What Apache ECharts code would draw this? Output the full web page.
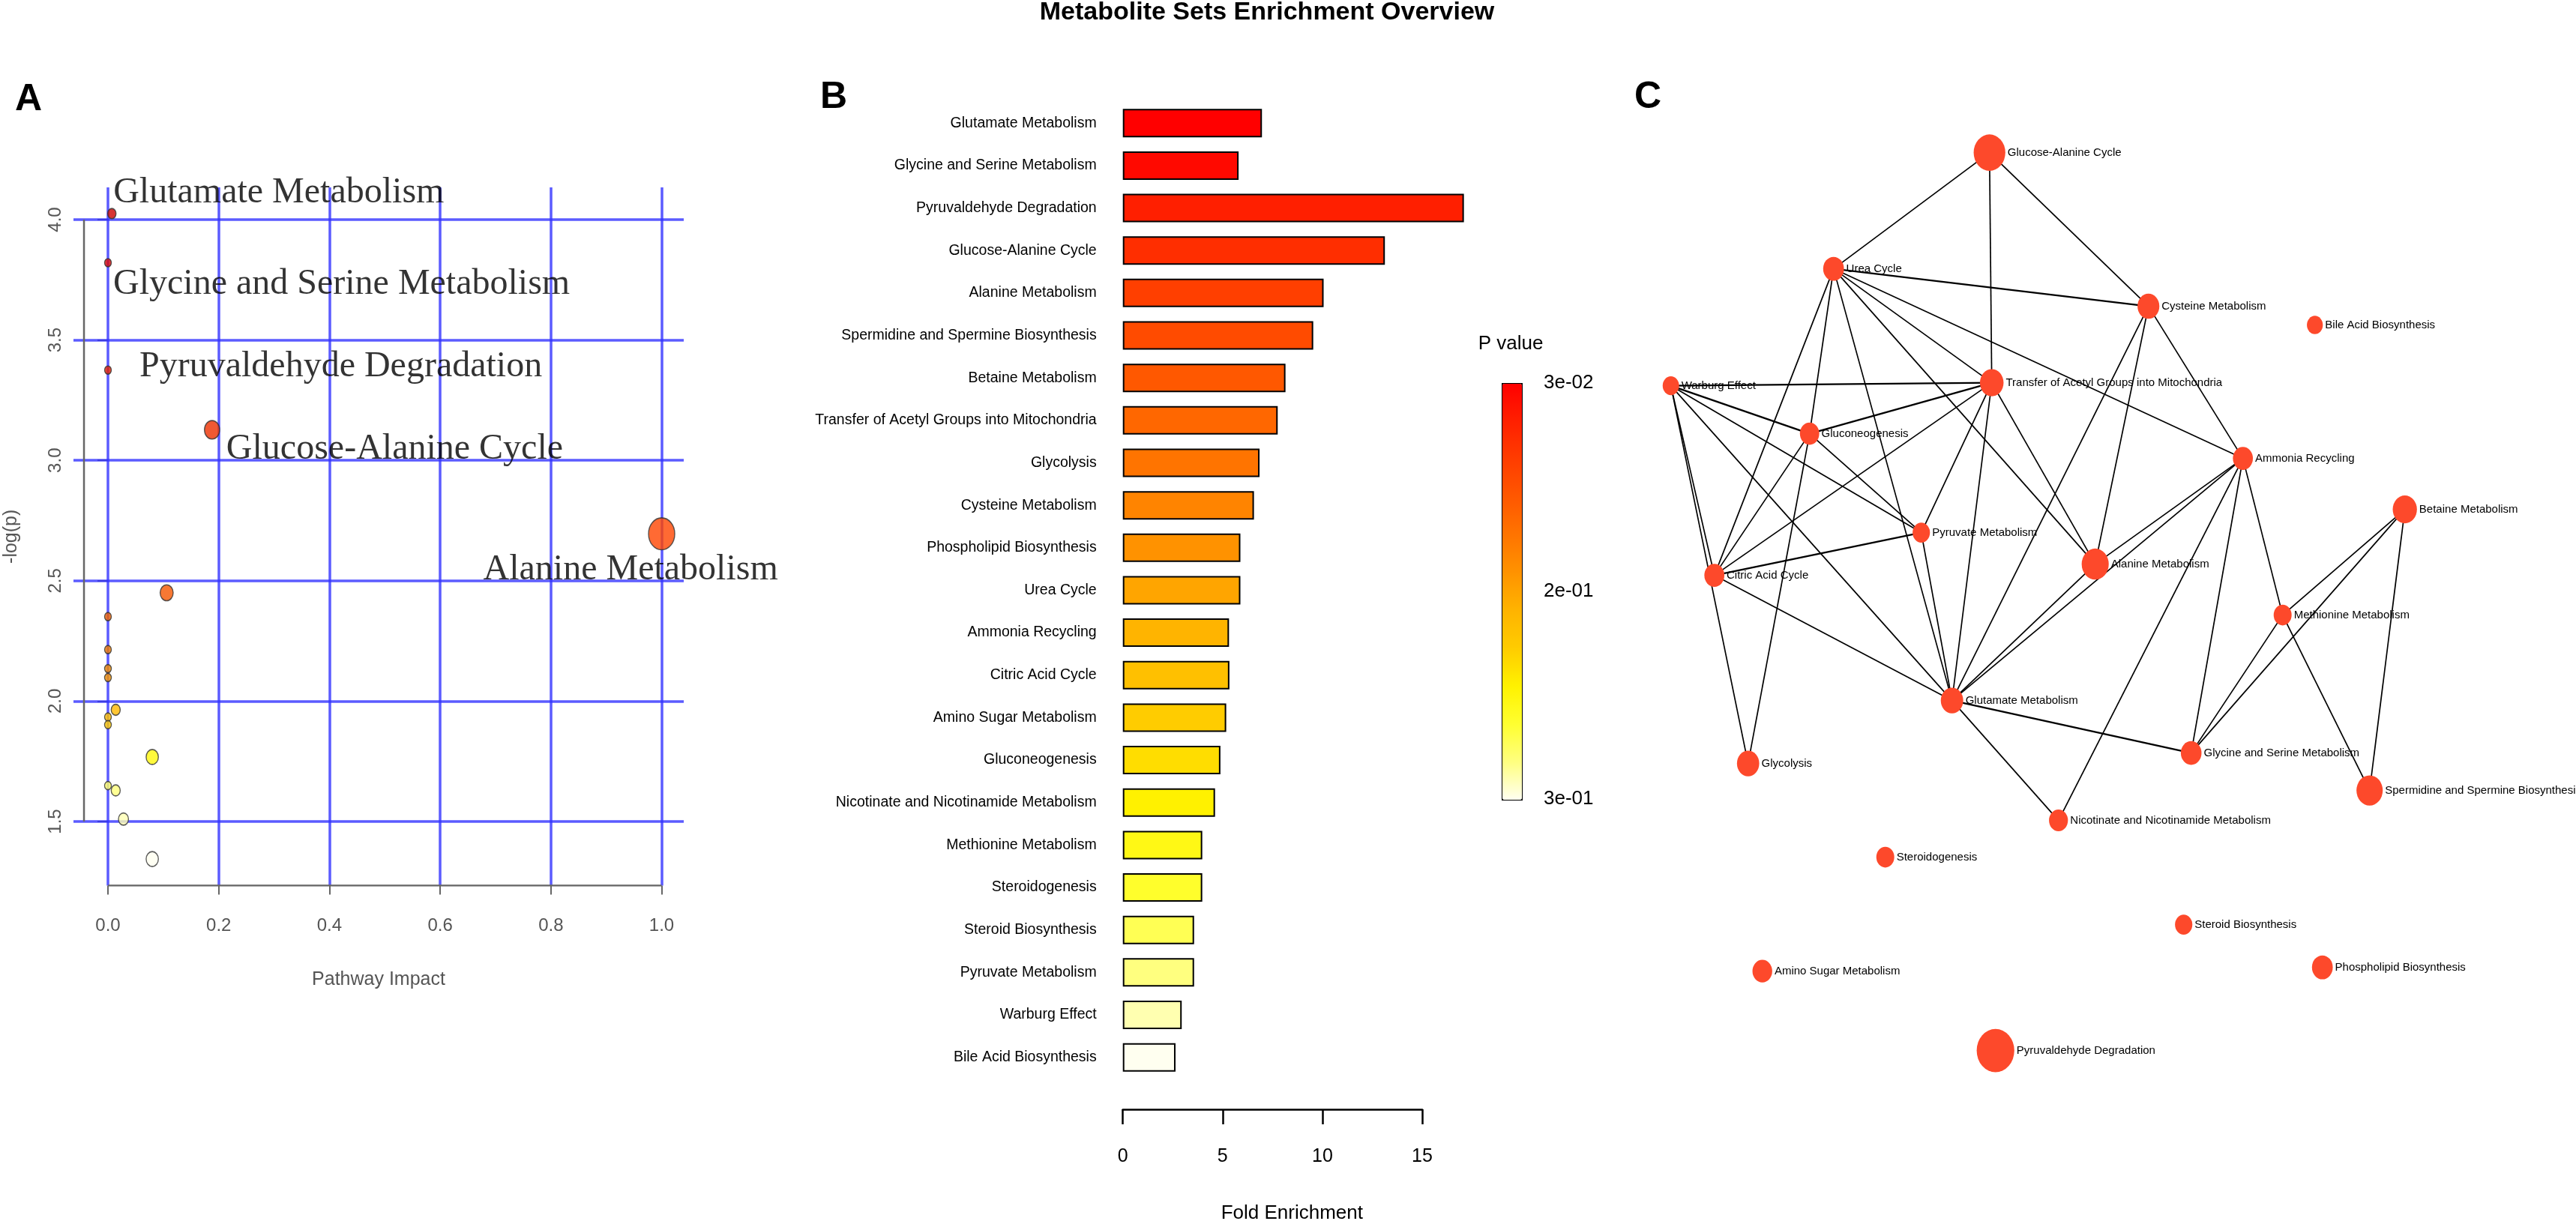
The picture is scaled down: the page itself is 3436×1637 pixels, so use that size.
<!DOCTYPE html>
<html><head><meta charset="utf-8">
<script src="https://cdn.jsdelivr.net/npm/echarts@6/dist/echarts.min.js"></script>
<style>html,body{margin:0;padding:0;background:#fff}#c{width:3436px;height:1637px}</style>
</head><body><div id="c"></div>
<script>
// ---------- Panel A: pathway impact vs -log(p) ----------
const aImpact = [0.007, 0, 0, 0.188, 1.0, 0.106, 0, 0, 0, 0, 0.014, 0, 0, 0.080, 0, 0.014, 0.028, 0.080];
const aLogP   = [4.025, 3.821, 3.375, 3.127, 2.695, 2.450, 2.351, 2.214, 2.135, 2.098, 1.964, 1.934, 1.902, 1.768, 1.649, 1.629, 1.510, 1.344];
const aNames  = ['Glutamate Metabolism', 'Glycine and Serine Metabolism', 'Pyruvaldehyde Degradation', 'Glucose-Alanine Cycle', 'Alanine Metabolism', '', '', '', '', '', '', '', '', '', '', '', '', ''];
const aXTicks = [0, 0.2, 0.4, 0.6, 0.8, 1.0];
const aYTicks = [1.5, 2.0, 2.5, 3.0, 3.5, 4.0];

// ---------- Panel B: fold enrichment ----------
const bCategories = ['Glutamate Metabolism', 'Glycine and Serine Metabolism', 'Pyruvaldehyde Degradation', 'Glucose-Alanine Cycle', 'Alanine Metabolism', 'Spermidine and Spermine Biosynthesis', 'Betaine Metabolism', 'Transfer of Acetyl Groups into Mitochondria', 'Glycolysis', 'Cysteine Metabolism', 'Phospholipid Biosynthesis', 'Urea Cycle', 'Ammonia Recycling', 'Citric Acid Cycle', 'Amino Sugar Metabolism', 'Gluconeogenesis', 'Nicotinate and Nicotinamide Metabolism', 'Methionine Metabolism', 'Steroidogenesis', 'Steroid Biosynthesis', 'Pyruvate Metabolism', 'Warburg Effect', 'Bile Acid Biosynthesis'];
const bFold = [6.97, 5.80, 17.09, 13.13, 10.06, 9.54, 8.15, 7.76, 6.85, 6.57, 5.89, 5.89, 5.32, 5.34, 5.18, 4.89, 4.62, 3.98, 3.98, 3.57, 3.57, 2.95, 2.64];
const bP    = [0.030, 0.037, 0.054, 0.066, 0.081, 0.092, 0.104, 0.117, 0.128, 0.141, 0.152, 0.166, 0.177, 0.190, 0.202, 0.213, 0.226, 0.237, 0.249, 0.262, 0.275, 0.286, 0.300];

// ---------- Panel C: network (layout units) ----------
const cNodes = ['Glucose-Alanine Cycle', 'Urea Cycle', 'Cysteine Metabolism', 'Bile Acid Biosynthesis', 'Warburg Effect', 'Transfer of Acetyl Groups into Mitochondria', 'Gluconeogenesis', 'Ammonia Recycling', 'Betaine Metabolism', 'Pyruvate Metabolism', 'Alanine Metabolism', 'Citric Acid Cycle', 'Methionine Metabolism', 'Glutamate Metabolism', 'Glycine and Serine Metabolism', 'Glycolysis', 'Spermidine and Spermine Biosynthesis', 'Nicotinate and Nicotinamide Metabolism', 'Steroidogenesis', 'Steroid Biosynthesis', 'Phospholipid Biosynthesis', 'Amino Sugar Metabolism', 'Pyruvaldehyde Degradation'];
const cNodeX = [425, 217, 637, 859, 0, 428, 185, 763, 979, 334, 566, 58, 816, 375, 694, 103, 932, 517, 286, 684, 869, 122, 433];
const cNodeY = [0, 155, 205, 230, 311, 307, 375, 408, 476, 507, 549, 564, 617, 731, 801, 815, 851, 891, 940, 1030, 1087, 1092, 1198];
const cEdges = [
  ['Glucose-Alanine Cycle', 'Urea Cycle', 1],
  ['Glucose-Alanine Cycle', 'Transfer of Acetyl Groups into Mitochondria', 1],
  ['Glucose-Alanine Cycle', 'Cysteine Metabolism', 1],
  ['Urea Cycle', 'Cysteine Metabolism', 2],
  ['Urea Cycle', 'Transfer of Acetyl Groups into Mitochondria', 1],
  ['Urea Cycle', 'Ammonia Recycling', 1],
  ['Urea Cycle', 'Alanine Metabolism', 1],
  ['Urea Cycle', 'Glutamate Metabolism', 1],
  ['Urea Cycle', 'Gluconeogenesis', 1],
  ['Urea Cycle', 'Citric Acid Cycle', 1],
  ['Warburg Effect', 'Transfer of Acetyl Groups into Mitochondria', 2],
  ['Warburg Effect', 'Gluconeogenesis', 2],
  ['Warburg Effect', 'Pyruvate Metabolism', 1],
  ['Warburg Effect', 'Glutamate Metabolism', 1],
  ['Warburg Effect', 'Citric Acid Cycle', 1],
  ['Warburg Effect', 'Glycolysis', 1],
  ['Gluconeogenesis', 'Transfer of Acetyl Groups into Mitochondria', 2],
  ['Gluconeogenesis', 'Citric Acid Cycle', 1],
  ['Gluconeogenesis', 'Pyruvate Metabolism', 1],
  ['Gluconeogenesis', 'Glycolysis', 1],
  ['Transfer of Acetyl Groups into Mitochondria', 'Citric Acid Cycle', 1],
  ['Transfer of Acetyl Groups into Mitochondria', 'Pyruvate Metabolism', 1],
  ['Transfer of Acetyl Groups into Mitochondria', 'Glutamate Metabolism', 1],
  ['Transfer of Acetyl Groups into Mitochondria', 'Alanine Metabolism', 1],
  ['Citric Acid Cycle', 'Pyruvate Metabolism', 2],
  ['Citric Acid Cycle', 'Glutamate Metabolism', 1],
  ['Pyruvate Metabolism', 'Glutamate Metabolism', 1],
  ['Cysteine Metabolism', 'Ammonia Recycling', 1],
  ['Cysteine Metabolism', 'Alanine Metabolism', 1],
  ['Cysteine Metabolism', 'Glutamate Metabolism', 1],
  ['Ammonia Recycling', 'Alanine Metabolism', 1],
  ['Ammonia Recycling', 'Glutamate Metabolism', 1],
  ['Ammonia Recycling', 'Nicotinate and Nicotinamide Metabolism', 1],
  ['Ammonia Recycling', 'Glycine and Serine Metabolism', 1],
  ['Ammonia Recycling', 'Methionine Metabolism', 1],
  ['Alanine Metabolism', 'Glutamate Metabolism', 1],
  ['Glutamate Metabolism', 'Glycine and Serine Metabolism', 2],
  ['Glutamate Metabolism', 'Nicotinate and Nicotinamide Metabolism', 1],
  ['Methionine Metabolism', 'Betaine Metabolism', 1],
  ['Methionine Metabolism', 'Glycine and Serine Metabolism', 1],
  ['Methionine Metabolism', 'Spermidine and Spermine Biosynthesis', 1],
  ['Betaine Metabolism', 'Glycine and Serine Metabolism', 1],
  ['Betaine Metabolism', 'Spermidine and Spermine Biosynthesis', 1]
];

// ---------- styles ----------
const SANS = "'Liberation Sans',Arial,Helvetica,sans-serif";
const SERIF = "'Liberation Serif','Times New Roman',serif";
const ELLIPSE = 'path://M50 0A50 50 0 1 1 50 100A50 50 0 1 1 50 0Z';
const aPalette = ['#fffff0','#ffffc0','#ffff88','#ffff10','#ffd000','#ffaa00','#f08800','#ea6a00','#f25800','#ff5000','#ff4500','#fa4000','#f43800','#ee3300','#e82a00','#e22000','#e01808','#de1008','#dd0a0a','#d50505','#cc0000'];
const bPalette = ['#ff0000','#ff2000','#ff3d00','#ff5800','#ff7400','#ff9300','#ffb400','#ffcc00','#fff200','#ffff30','#ffff80','#fffff0'];
const aLabelOffset = [[2,-28],[7,29],[42,-4],[19,26],[-238,48]];
const nodeColor = '#fd492b';
const axisGrey = '#666';

const pMin = Math.min(...bP), pMax = Math.max(...bP);
function sci(v){
  const e = Math.floor(Math.log10(v) + 1e-9);
  let m = Math.round(v / Math.pow(10, e));
  let ee = e; if (m >= 10) { m = 1; ee += 1; }
  const s = ee < 0 ? '-' : '+';
  return m + 'e' + s + String(Math.abs(ee)).padStart(2, '0');
}
const foldOf = {}; bCategories.forEach((c, i) => foldOf[c] = bFold[i]);

const aData = aImpact.map((x, i) => {
  const w = 9 + 26 * Math.sqrt(x);
  const item = { value: [x, aLogP[i]], name: aNames[i], symbolSize: [w, w * 1.22] };
  if (aNames[i]) item.label = { offset: aLabelOffset[i] };
  return item;
});

const yMinA = 1.2335, axisXA = -0.0433;
const chart = echarts.init(document.getElementById('c'), null, { renderer: 'canvas' });
chart.setOption({
  animation: false,
  backgroundColor: '#fff',
  title: [
    { text: 'Metabolite Sets Enrichment Overview', left: 1690, top: 0, textAlign: 'center', padding: 0, textStyle: { fontFamily: SANS, fontWeight: 'bold', fontSize: 34, color: '#000' } },
    { text: 'A', left: 20, top: 108, padding: 0, textStyle: { fontFamily: SANS, fontWeight: 'bold', fontSize: 50, color: '#000' } },
    { text: 'B', left: 1094, top: 105, padding: 0, textStyle: { fontFamily: SANS, fontWeight: 'bold', fontSize: 50, color: '#000' } },
    { text: 'C', left: 2180, top: 105, padding: 0, textStyle: { fontFamily: SANS, fontWeight: 'bold', fontSize: 50, color: '#000' } },
    { text: 'P value', left: 2015, top: 446, textAlign: 'center', padding: 0, textStyle: { fontFamily: SANS, fontWeight: 'normal', fontSize: 26, color: '#000' } }
  ],
  grid: [
    { left: 98, top: 250, width: 814, height: 931.6 },
    { left: 1497.7, top: 135.9, width: 399.3, height: 1305 },
    { left: 2003, top: 511, width: 26, height: 555 }
  ],
  xAxis: [
    { gridIndex: 0, type: 'value', min: -0.0623, max: 1.0399,
      axisLine: { show: false }, splitLine: { show: false },
      axisTick: { customValues: aXTicks, length: 12, lineStyle: { color: axisGrey, width: 2 } },
      axisLabel: { customValues: aXTicks, formatter: v => v.toFixed(1), margin: 42, fontSize: 24, fontFamily: SANS, color: '#555' },
      name: 'Pathway Impact', nameLocation: 'middle', nameGap: 113, nameTextStyle: { fontSize: 25, fontFamily: SANS, color: '#555' } },
    { gridIndex: 1, type: 'value', min: 0, max: 15, interval: 5, offset: 41,
      axisLine: { show: true, lineStyle: { color: '#000', width: 2.5 } },
      axisTick: { show: true, length: 20, lineStyle: { color: '#000', width: 2.5 } },
      axisLabel: { margin: 51, fontSize: 25, fontFamily: SANS, color: '#000' },
      splitLine: { show: false },
      name: 'Fold Enrichment', nameLocation: 'middle', nameGap: 126, nameTextStyle: { fontSize: 26, fontFamily: SANS, color: '#000', padding: [0, 0, 0, 52] } },
    { gridIndex: 2, type: 'value', show: false, min: 0, max: 1 }
  ],
  yAxis: [
    { gridIndex: 0, type: 'value', min: yMinA, max: 4.1339, offset: -14,
      axisLine: { show: false }, splitLine: { show: false },
      axisTick: { customValues: aYTicks, length: 14, lineStyle: { color: axisGrey, width: 2 } },
      axisLabel: { customValues: aYTicks, formatter: v => v.toFixed(1), rotate: 90, margin: 26, fontSize: 24, fontFamily: SANS, color: '#555' },
      name: '-log(p)', nameLocation: 'middle', nameGap: 84, nameTextStyle: { fontSize: 25, fontFamily: SANS, color: '#555' } },
    { gridIndex: 1, type: 'category', data: bCategories, inverse: true,
      axisLine: { show: false }, axisTick: { show: false },
      axisLabel: { margin: 35, fontSize: 19.5, fontFamily: SANS, color: '#000' } },
    { gridIndex: 2, type: 'value', min: pMin, max: pMax, inverse: true, position: 'right',
      axisLine: { show: false }, axisTick: { show: false }, splitLine: { show: false },
      axisLabel: { customValues: [pMin, (pMin + pMax) / 2, pMax], formatter: sci, margin: 30, fontSize: 26, fontFamily: SANS, color: '#000', padding: [14, 0, 0, 0] } }
  ],
  visualMap: [
    { type: 'continuous', seriesIndex: 0, dimension: 1, min: Math.min(...aLogP), max: Math.max(...aLogP), show: false, inRange: { color: aPalette } },
    { type: 'continuous', seriesIndex: 1, dimension: 2, min: pMin, max: pMax, inverse: true, calculable: false, show: true,
      left: 2003, top: 511, itemWidth: 26, itemHeight: 555, text: null, padding: 0, borderColor: '#000', borderWidth: 2,
      inRange: { color: bPalette } }
  ],
  series: [
    { type: 'scatter', xAxisIndex: 0, yAxisIndex: 0, z: 6, symbol: ELLIPSE, data: aData,
      itemStyle: { borderColor: '#333', borderWidth: 1.5 },
      label: { show: true, position: 'inside', align: 'left', verticalAlign: 'middle', formatter: p => p.name, fontFamily: SERIF, fontSize: 48, color: '#000' },
      emphasis: { disabled: true }, silent: true,
      markLine: { silent: true, z: 1, symbol: ['none', 'none'], label: { show: false }, animation: false,
        lineStyle: { color: 'rgba(50,50,255,0.8)', width: 3.5, type: 'solid' },
        data: [
          ...aXTicks.map(v => ({ xAxis: v })),
          ...aYTicks.map(v => ({ yAxis: v }))
        ] } },
    { type: 'bar', xAxisIndex: 1, yAxisIndex: 1, clip: false, barWidth: 38,
      data: bFold.map((v, i) => [v, bCategories[i], bP[i]]), encode: { x: 0, y: 1 },
      itemStyle: { borderColor: '#000', borderWidth: 2 }, emphasis: { disabled: true }, silent: true },
    { type: 'graph', layout: 'none', left: 2228.7, top: 203.6, width: 979, height: 1198, roam: false, silent: true,
      symbol: ELLIPSE,
      data: cNodes.map((n, i) => { const w = 16 + 2 * foldOf[n]; return { name: n, x: cNodeX[i], y: cNodeY[i], symbolSize: [w, w * 1.15] }; }),
      links: cEdges.map(e => ({ source: e[0], target: e[1], lineStyle: { width: e[2] > 1 ? 2.4 : 1.7 } })),
      itemStyle: { color: nodeColor },
      lineStyle: { color: '#000', width: 1.7, opacity: 1, curveness: 0 },
      label: { show: true, position: 'right', distance: 3, fontSize: 15, fontFamily: SANS, color: '#000' },
      emphasis: { disabled: true } },
    // axis lines of panel A (R-style: span the tick range only)
    { type: 'line', xAxisIndex: 0, yAxisIndex: 0, z: 2, silent: true, symbol: 'none',
      data: [[axisXA, aYTicks[0]], [axisXA, aYTicks[aYTicks.length - 1]]],
      lineStyle: { color: axisGrey, width: 2.5 } },
    { type: 'line', xAxisIndex: 0, yAxisIndex: 0, z: 2, silent: true, symbol: 'none',
      data: [[aXTicks[0], yMinA], [aXTicks[aXTicks.length - 1], yMinA]],
      lineStyle: { color: axisGrey, width: 2.5 } }
  ]
});
</script></body></html>
